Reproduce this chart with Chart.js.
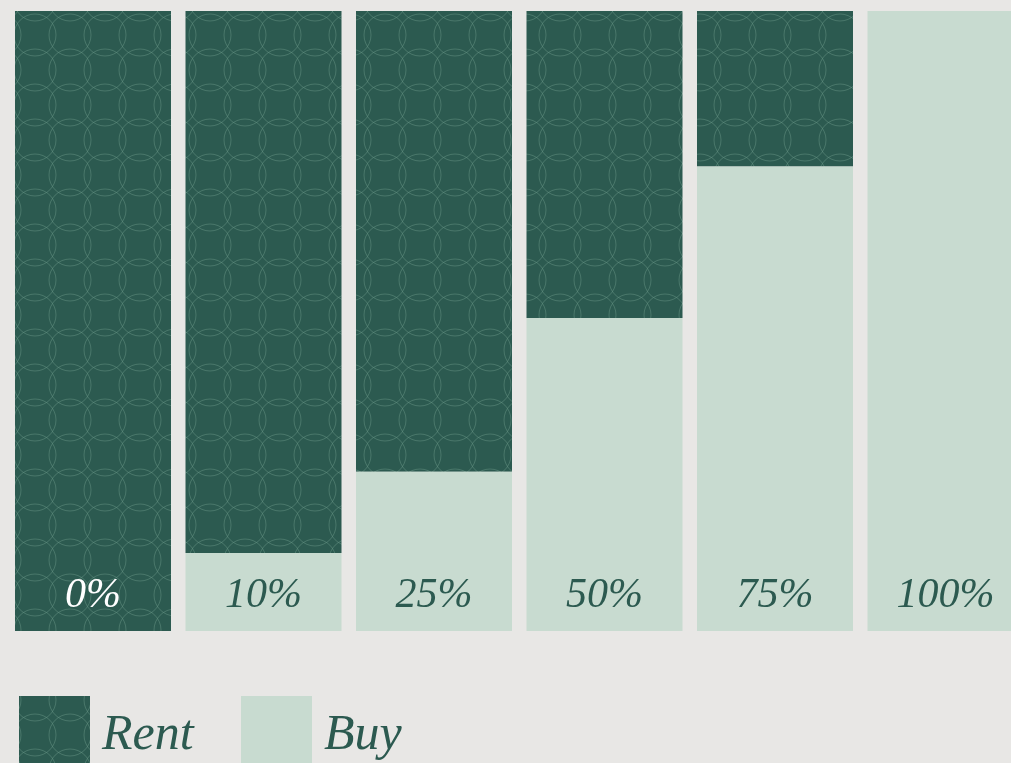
<!DOCTYPE html>
<html>
<head>
<meta charset="utf-8">
<script src="https://cdn.jsdelivr.net/npm/chart.js@4/dist/chart.umd.min.js"></script>
<style>
  html, body { margin: 0; padding: 0; background: #e8e7e5; overflow: hidden; }
  #wrap { position: absolute; left: 0; top: 0; width: 1040px; height: 763px; }
</style>
</head>
<body>
<div id="wrap"><canvas id="chart"></canvas></div>
<script>
const categories = ["0%", "10%", "25%", "50%", "75%", "100%"];
const rentValues = [100, 87.4, 74.3, 49.5, 25.1, 0];
const buyValues = [0, 12.6, 25.7, 50.5, 74.9, 100];
const seriesNames = ["Rent", "Buy"];

const darkGreen = "#2c5a50";
const lightGreen = "#c8dbd0";
const scriptFont = "'Liberation Serif', 'DejaVu Serif', serif";

// tile of overlapping circles for the rent bars
function makePattern() {
  const d = 35, r = 21;
  const tile = document.createElement("canvas");
  tile.width = d;
  tile.height = d;
  const c = tile.getContext("2d");
  c.fillStyle = darkGreen;
  c.fillRect(0, 0, d, d);
  c.strokeStyle = "rgba(120, 165, 148, 0.4)";
  c.lineWidth = 1;
  for (let i = -1; i <= 1; i++) {
    for (let j = -1; j <= 1; j++) {
      c.beginPath();
      c.arc(i * d, j * d, r, 0, Math.PI * 2);
      c.stroke();
    }
  }
  return document.getElementById("chart").getContext("2d").createPattern(tile, "repeat");
}
const rentPattern = makePattern();

const barLabels = {
  id: "barLabels",
  afterDatasetsDraw(chart) {
    const ctx = chart.ctx;
    const x = chart.scales.x;
    const y = chart.scales.y;
    ctx.save();
    ctx.font = "italic 42px " + scriptFont;
    ctx.textAlign = "center";
    ctx.textBaseline = "alphabetic";
    categories.forEach((cat, i) => {
      ctx.fillStyle = buyValues[i] > 10 ? darkGreen : "#ffffff";
      ctx.fillText(cat, x.getPixelForValue(i), y.getPixelForValue(0) - 24);
    });
    ctx.restore();
  }
};

const bottomLegend = {
  id: "bottomLegend",
  afterDraw(chart) {
    const ctx = chart.ctx;
    const fills = { Rent: rentPattern, Buy: lightGreen };
    let left = 19;
    const top = 696;
    ctx.save();
    ctx.font = "italic 50px " + scriptFont;
    ctx.textBaseline = "alphabetic";
    seriesNames.forEach((name) => {
      ctx.fillStyle = fills[name];
      ctx.fillRect(left, top, 71, 71);
      ctx.fillStyle = darkGreen;
      ctx.fillText(name, left + 83, top + 53);
      left += 222;
    });
    ctx.restore();
  }
};

new Chart(document.getElementById("chart"), {
  type: "bar",
  data: {
    labels: categories,
    datasets: [
      {
        label: "Buy",
        data: buyValues,
        backgroundColor: lightGreen,
        borderWidth: 0
      },
      {
        label: "Rent",
        data: rentValues,
        backgroundColor: rentPattern,
        borderWidth: 0
      }
    ]
  },
  options: {
    responsive: true,
    maintainAspectRatio: false,
    animation: false,
    layout: { padding: { left: 7.75, right: 9.25, top: 11, bottom: 132 } },
    datasets: { bar: { barPercentage: 0.915, categoryPercentage: 1 } },
    scales: {
      x: { stacked: true, display: false },
      y: { stacked: true, display: false, min: 0, max: 100 }
    },
    plugins: {
      legend: { display: false },
      tooltip: { enabled: false }
    }
  },
  plugins: [barLabels, bottomLegend]
});
</script>
</body>
</html>
